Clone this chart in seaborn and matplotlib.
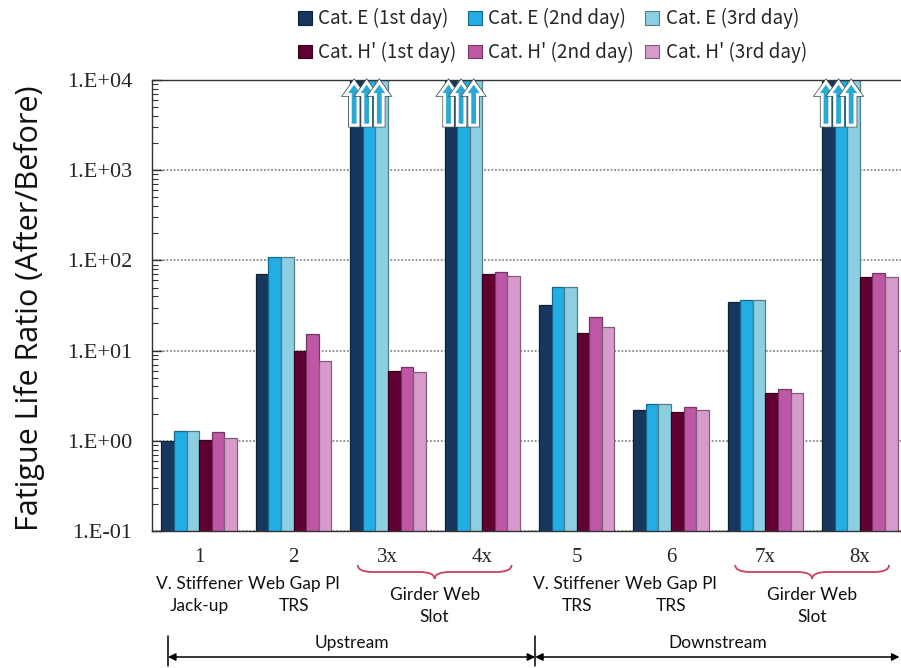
import numpy as np
import pandas as pd
import matplotlib
matplotlib.use("Agg")
import matplotlib.pyplot as plt
import matplotlib.colors as mcolors
import matplotlib.patheffects as pe
import seaborn as sns
from matplotlib.patches import Polygon, PathPatch, Patch
from matplotlib.path import Path
from matplotlib.transforms import blended_transform_factory
from matplotlib.ticker import FixedLocator, LogLocator, NullFormatter

# ---- data -------------------------------------------------------------
groups = ["1", "2", "3x", "4x", "5", "6", "7x", "8x"]
series = ["Cat. E (1st day)", "Cat. E (2nd day)", "Cat. E (3rd day)",
          "Cat. H' (1st day)", "Cat. H' (2nd day)", "Cat. H' (3rd day)"]
cat_e_day1 = [1.00, 70.0, 1e4, 1e4, 32.0, 2.17, 35.0, 1e4]
cat_e_day2 = [1.29, 110.0, 1e4, 1e4, 51.0, 2.55, 36.5, 1e4]
cat_e_day3 = [1.29, 110.0, 1e4, 1e4, 51.0, 2.55, 36.5, 1e4]
cat_h_day1 = [1.02, 9.9, 5.9, 70.0, 15.5, 2.06, 3.4, 65.0]
cat_h_day2 = [1.26, 15.3, 6.5, 75.0, 23.7, 2.34, 3.8, 72.0]
cat_h_day3 = [1.08, 7.6, 5.8, 68.0, 18.5, 2.22, 3.4, 65.0]
# Cat. E ratios that run past the top of the scale (>= 1.E+04)
beyond_scale = ["3x", "4x", "8x"]

ytick_values = [1e-1, 1e0, 1e1, 1e2, 1e3, 1e4]
ytick_labels = ["1.E-01", "1.E+00", "1.E+01", "1.E+02", "1.E+03", "1.E+04"]

detail_names = {
    "1": "V. Stiffener\nJack-up",
    "2": "Web Gap Pl\nTRS",
    "5": "V. Stiffener\nTRS",
    "6": "Web Gap Pl\nTRS",
}
paired_detail = [("3x", "4x", "Girder Web\nSlot"), ("7x", "8x", "Girder Web\nSlot")]
regions = [("Upstream", -0.33, 3.56), ("Downstream", 3.56, 7.42)]

palette = ["#17375E", "#22AEE4", "#8CCFE2", "#600032", "#BE58A6", "#D69BCB"]

values = [cat_e_day1, cat_e_day2, cat_e_day3, cat_h_day1, cat_h_day2, cat_h_day3]
df = pd.DataFrame({
    "location": np.tile(groups, len(series)),
    "series": np.repeat(series, len(groups)),
    "ratio": np.concatenate(values),
})

# ---- figure -----------------------------------------------------------
sns.set_style("white")
W, H = 901, 668
fig = plt.figure(figsize=(W / 100, H / 100), dpi=100)
ax = fig.add_axes([152 / W, 1 - 531 / H, (907 - 152) / W, 451 / H])

sns.barplot(data=df, x="location", y="ratio", hue="series", order=groups,
            hue_order=series, palette=palette, errorbar=None, saturation=1,
            width=0.8, legend=False, ax=ax)
ax.set_yscale("log")

for cont, col in zip(ax.containers, palette):
    dark = np.array(mcolors.to_rgb(col)) * 0.6
    for bar in cont:
        bar.set_edgecolor(dark)
        bar.set_linewidth(0.9)
        bar.set_zorder(2)

ax.set_ylim(1e-1, 1e4)
ax.set_xlim(-0.5, 7.5)
ax.yaxis.set_major_locator(FixedLocator(ytick_values))
ax.set_yticklabels(ytick_labels, family="Liberation Serif", fontsize=16)
ax.yaxis.set_minor_locator(LogLocator(base=10, subs=np.arange(2, 10)))
ax.yaxis.set_minor_formatter(NullFormatter())
ax.tick_params(axis="y", which="major", direction="in", length=7, width=1,
               color="#333333", pad=14, left=True)
ax.tick_params(axis="y", which="minor", direction="in", length=4, width=0.8,
               color="#333333", left=True)
ax.set_xticks(range(len(groups)))
ax.set_xticklabels(groups, family="Liberation Serif", fontsize=15)
ax.tick_params(axis="x", length=0, pad=12)
ax.set_xlabel("")
ax.set_ylabel("")
ax.yaxis.grid(True, which="major", linestyle=(0, (1, 1)), color="#8a8a8a", lw=1.3)
ax.set_axisbelow(True)
for side in ["left", "top", "bottom"]:
    ax.spines[side].set_color("#333333")
    ax.spines[side].set_linewidth(1.0)
ax.spines["right"].set_visible(False)

# ---- "beyond scale" block arrows on the Cat. E bars --------------------
tr_ax = blended_transform_factory(ax.transData, ax.transAxes)
shaft_hw, head_hw = 0.04, 0.092
y_tail, y_neck, y_tip = 0.900, 0.968, 0.995
for g in beyond_scale:
    j = groups.index(g)
    for cont in ax.containers[:3]:
        bar = cont[j]
        xc = bar.get_x() + bar.get_width() / 2 - 0.025
        pts = [(xc - shaft_hw, y_tail), (xc - shaft_hw, y_neck),
               (xc - head_hw, y_neck), (xc, y_tip), (xc + head_hw, y_neck),
               (xc + shaft_hw, y_neck), (xc + shaft_hw, y_tail)]
        ax.add_patch(Polygon(pts, closed=True, transform=tr_ax,
                             facecolor="#2AA9D3", edgecolor="white", lw=2.0,
                             joinstyle="miter", zorder=6, clip_on=False,
                             path_effects=[pe.withStroke(linewidth=3.4,
                                                         foreground="#4a5a60"),
                                           pe.Normal()]))

# ---- labels under the axis -------------------------------------------
tr = blended_transform_factory(ax.transData, fig.transFigure)


def fy(px):
    return 1 - px / H


label_font = dict(family="Lato", fontsize=12.5, color="#111111")
for g, name in detail_names.items():
    ax.text(groups.index(g), fy(595), name, transform=tr, ha="center",
            va="center", linespacing=1.5, **label_font)

brace_color = "#C8435C"
for g0, g1, name in paired_detail:
    x0 = groups.index(g0) - 0.32
    x1 = groups.index(g1) + 0.31
    xm = (x0 + x1) / 2
    d = 0.16
    ye, ymid, ytip = fy(565), fy(572), fy(579)
    verts = [(x0, ye), (x0, ymid), (x0 + d, ymid), (xm - d, ymid), (xm, ymid),
             (xm, ytip), (xm, ymid), (xm + d, ymid), (x1 - d, ymid), (x1, ymid),
             (x1, ye)]
    codes = [Path.MOVETO, Path.CURVE3, Path.CURVE3, Path.LINETO, Path.CURVE3,
             Path.CURVE3, Path.CURVE3, Path.CURVE3, Path.LINETO, Path.CURVE3,
             Path.CURVE3]
    ax.add_patch(PathPatch(Path(verts, codes), transform=tr, facecolor="none",
                           edgecolor=brace_color, lw=1.3, clip_on=False))
    ax.text(xm, fy(606), name, transform=tr, ha="center", va="center",
            linespacing=1.45, **label_font)

for name, xa, xb in regions:
    ax.text((xa + xb) / 2, fy(643), name, transform=tr, ha="center",
            va="center", **label_font)
    ax.annotate("", xy=(xa, fy(657)), xytext=(xb, fy(657)), xycoords=tr,
                textcoords=tr, annotation_clip=False,
                arrowprops=dict(arrowstyle="<|-|>", color="black", lw=1.1,
                                mutation_scale=11, shrinkA=0, shrinkB=0))
for xv in [-0.33, 3.56]:
    ax.plot([xv, xv], [fy(636), fy(666)], transform=tr, color="black", lw=1.1,
            clip_on=False)

# ---- y label and legend ----------------------------------------------
fig.text(30 / W, fy(308), "Fatigue Life Ratio (After/Before)", rotation=90,
         ha="center", va="center", family="Open Sans", fontsize=22, color="#111111")

handles = [Patch(facecolor=c, edgecolor=np.array(mcolors.to_rgb(c)) * 0.6, lw=0.8)
           for c in palette]
order = [0, 3, 1, 4, 2, 5]
fig.legend([handles[i] for i in order], [series[i] for i in order], ncol=3,
           loc="upper left", bbox_to_anchor=(285 / W, 1 + 5 / H), frameon=False,
           prop=dict(family=["Noto Sans CJK SC", "DejaVu Sans"], size=13.6),
           handlelength=0.72, handleheight=0.72, handletextpad=0.35,
           columnspacing=0.6, labelspacing=0.66, borderpad=0.2)

fig.savefig("out.png", dpi=100, facecolor="white")
